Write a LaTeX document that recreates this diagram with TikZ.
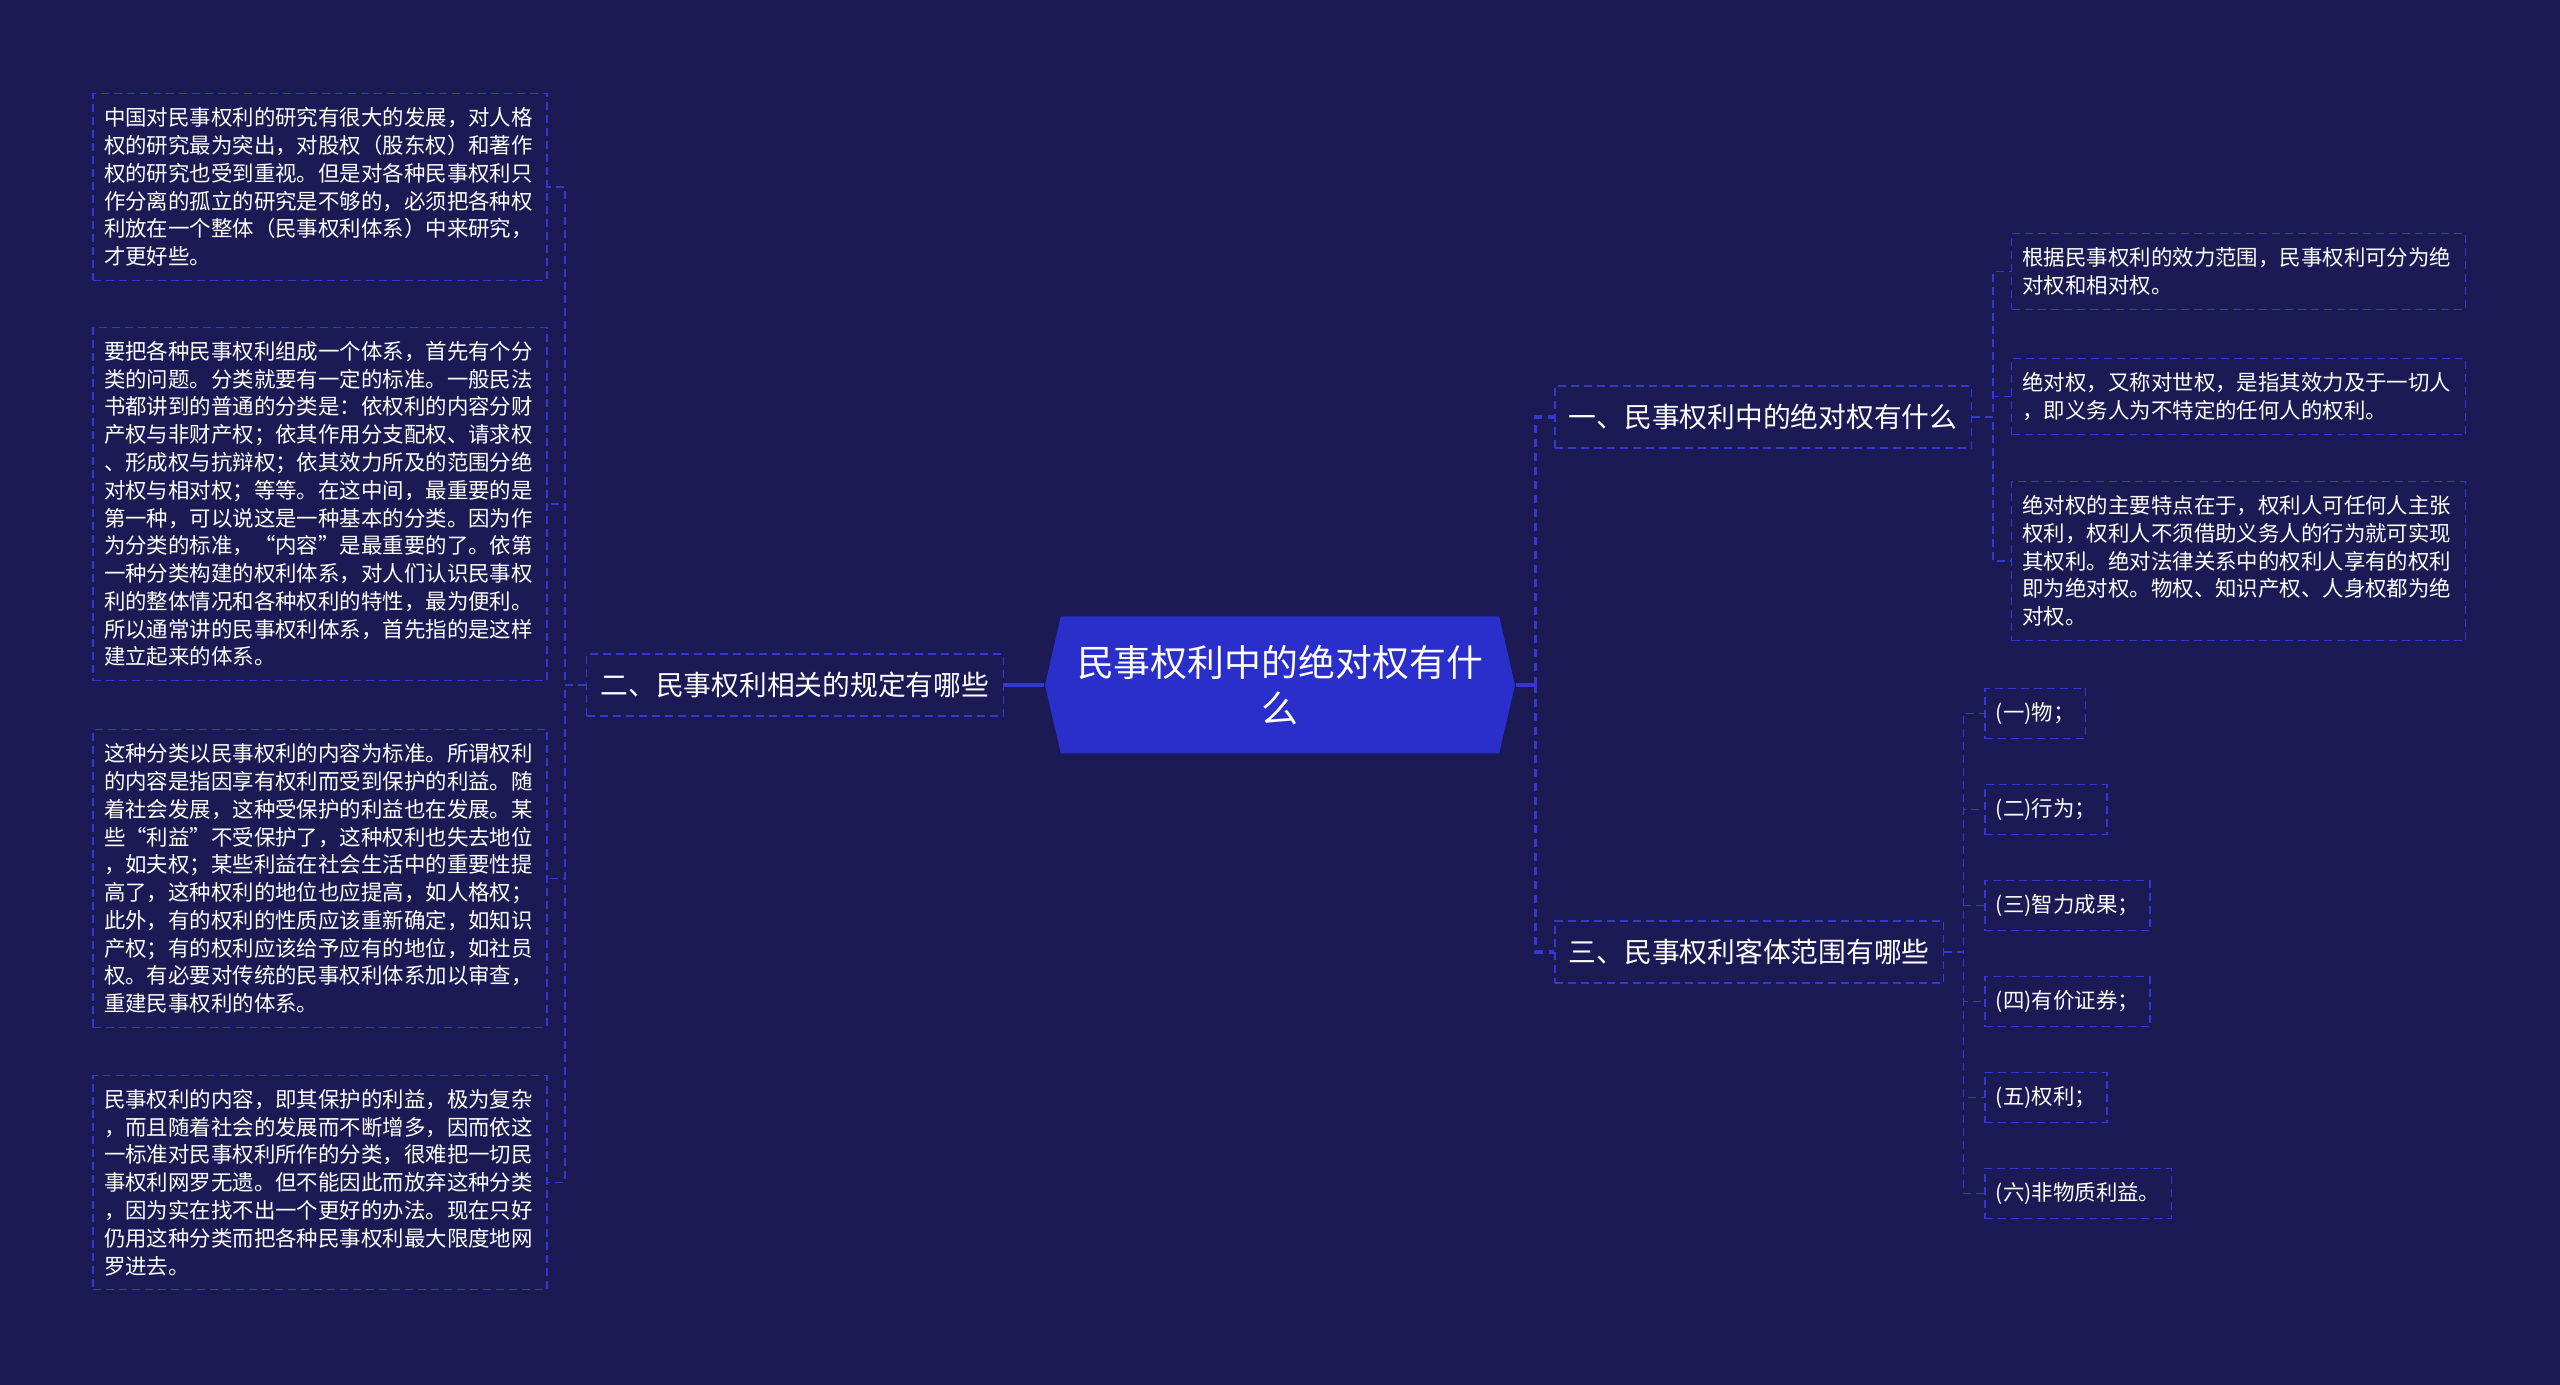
\documentclass[tikz,border=0pt]{standalone}
\usepackage{fontspec}
\setmainfont{Noto Sans CJK SC}
\usetikzlibrary{shapes.symbols}
\definecolor{bgnavy}{RGB}{27,26,84}
\definecolor{edgeblue}{RGB}{52,56,208}
\definecolor{rootblue}{RGB}{42,46,202}
\tikzset{
  rootnode/.style={signal,signal to=east and west,signal pointer angle=154,fill=rootblue,text=white,
    align=center,minimum width=47mm,minimum height=13.7mm,inner sep=0pt,
    font=\fontsize{10.5pt}{13pt}\selectfont},
  boxbase/.style={draw=edgeblue,dash pattern=on .8mm off .5mm,line width=.15mm,text=white,
    inner xsep=1.1mm,inner ysep=1.4mm,font=\fontsize{6.1pt}{7.9pt}\selectfont},
  topic/.style={boxbase,minimum height=6.2mm,inner xsep=1.4mm,inner ysep=0pt,
    font=\fontsize{7.9pt}{9.5pt}\selectfont},
  para/.style={boxbase,align=left,text width=43.2mm},
  leaf/.style={boxbase,anchor=west},
  trunk/.style={draw=edgeblue,line width=.35mm},
  trunkdash/.style={trunk,dash pattern=on .8mm off .6mm},
  twig/.style={draw=edgeblue,line width=.15mm,dash pattern=on .8mm off .5mm}
}

\begin{document}
\begin{tikzpicture}[x=0.1mm,y=-0.1mm]
  \fill[bgnavy] (0,0) rectangle (2560,1385);

  % centre
  \node[rootnode] (root) at (1280,685) {民事权利中的绝对权有什\\么};

  % first level
  \node[topic,anchor=east] (l2) at (1004,685) {二、民事权利相关的规定有哪些};
  \node[topic,anchor=west] (l1) at (1554,417) {一、民事权利中的绝对权有什么};
  \node[topic,anchor=west] (l3) at (1554,952) {三、民事权利客体范围有哪些};

  % left paragraphs
  \node[para] (p1) at (320,187) {中国对民事权利的研究有很大的发展，对人格\\
权的研究最为突出，对股权（股东权）和著作\\
权的研究也受到重视。但是对各种民事权利只\\
作分离的孤立的研究是不够的，必须把各种权\\
利放在一个整体（民事权利体系）中来研究，\\
才更好些。};
  \node[para] (p2) at (320,504) {要把各种民事权利组成一个体系，首先有个分\\
类的问题。分类就要有一定的标准。一般民法\\
书都讲到的普通的分类是：依权利的内容分财\\
产权与非财产权；依其作用分支配权、请求权\\
、形成权与抗辩权；依其效力所及的范围分绝\\
对权与相对权；等等。在这中间，最重要的是\\
第一种，可以说这是一种基本的分类。因为作\\
为分类的标准，“内容”是最重要的了。依第\\
一种分类构建的权利体系，对人们认识民事权\\
利的整体情况和各种权利的特性，最为便利。\\
所以通常讲的民事权利体系，首先指的是这样\\
建立起来的体系。};
  \node[para] (p3) at (320,878.5) {这种分类以民事权利的内容为标准。所谓权利\\
的内容是指因享有权利而受到保护的利益。随\\
着社会发展，这种受保护的利益也在发展。某\\
些“利益”不受保护了，这种权利也失去地位\\
，如夫权；某些利益在社会生活中的重要性提\\
高了，这种权利的地位也应提高，如人格权；\\
此外，有的权利的性质应该重新确定，如知识\\
产权；有的权利应该给予应有的地位，如社员\\
权。有必要对传统的民事权利体系加以审查，\\
重建民事权利的体系。};
  \node[para] (p4) at (320,1182.5) {民事权利的内容，即其保护的利益，极为复杂\\
，而且随着社会的发展而不断增多，因而依这\\
一标准对民事权利所作的分类，很难把一切民\\
事权利网罗无遗。但不能因此而放弃这种分类\\
，因为实在找不出一个更好的办法。现在只好\\
仍用这种分类而把各种民事权利最大限度地网\\
罗进去。};

  % right paragraphs
  \node[para] (a1) at (2238.5,271.5) {根据民事权利的效力范围，民事权利可分为绝\\
对权和相对权。};
  \node[para] (a2) at (2238.5,396.5) {绝对权，又称对世权，是指其效力及于一切人\\
，即义务人为不特定的任何人的权利。};
  \node[para] (a3) at (2238.5,561) {绝对权的主要特点在于，权利人可任何人主张\\
权利，权利人不须借助义务人的行为就可实现\\
其权利。绝对法律关系中的权利人享有的权利\\
即为绝对权。物权、知识产权、人身权都为绝\\
对权。};

  % objects
  \node[leaf] (b1) at (1984,713.5) {(一)物；};
  \node[leaf] (b2) at (1984,809.5) {(二)行为；};
  \node[leaf] (b3) at (1984,905.5) {(三)智力成果；};
  \node[leaf] (b4) at (1984,1001.5) {(四)有价证券；};
  \node[leaf] (b5) at (1984,1097.5) {(五)权利；};
  \node[leaf] (b6) at (1984,1193.5) {(六)非物质利益。};

  % connectors
  \draw[trunk] (root.west) -- (l2.east);
  \draw[trunk] (root.east) -- ++(20,0) coordinate (rj);
  \draw[trunkdash] (rj) |- (l1.west);
  \draw[trunkdash] (rj) |- (l3.west);
  \foreach \c in {p1,p2,p3,p4}
    \draw[twig] (l2.west) -- ++(-21,0) |- (\c.east);
  \foreach \c in {a1,a2,a3}
    \draw[twig] (l1.east) -- ++(21,0) |- (\c.west);
  \foreach \i in {1,...,6}
    \draw[twig] (l3.east) -- ++(19,0) |- (b\i.west);
\end{tikzpicture}
\end{document}
